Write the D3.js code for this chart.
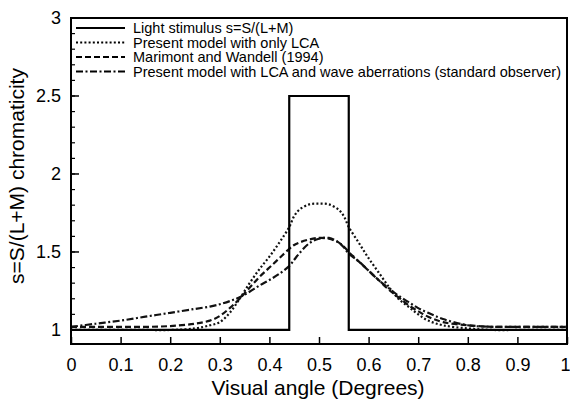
<!DOCTYPE html>
<html>
<head>
<meta charset="utf-8">
<script src="https://cdn.jsdelivr.net/npm/d3@7"></script>
<style>
  body { margin: 0; background: #fff; }
  text { font-family: "Liberation Sans", Arial, Helvetica, sans-serif; fill: #000; }
</style>
</head>
<body>
<div class="chart"></div>
<script>
// step profile of the stimulus
var stimX = [0, 0.44, 0.44, 0.56, 0.56, 1];
var stimY = [1, 1, 2.5, 2.5, 1, 1];

// sample positions for the model curves
var angles = [0, 0.05, 0.1, 0.15, 0.2, 0.25, 0.28, 0.3, 0.32, 0.34, 0.36, 0.38, 0.4, 0.42, 0.44, 0.45, 0.46, 0.48, 0.5,
              0.52, 0.54, 0.55, 0.56, 0.58, 0.6, 0.62, 0.64, 0.66, 0.68, 0.7, 0.72, 0.75, 0.8, 0.85, 0.9, 0.95, 1];

var lcaOnly   = [1.00, 1.00, 1.00, 1.00, 1.00, 1.01, 1.03, 1.05, 1.11, 1.20, 1.30, 1.39, 1.47, 1.56, 1.66, 1.73, 1.77, 1.805, 1.81,
                 1.805, 1.77, 1.73, 1.66, 1.56, 1.46, 1.37, 1.28, 1.20, 1.15, 1.10, 1.06, 1.03, 1.01, 1.00, 1.00, 1.00, 1.00];
var marimont  = [1.02, 1.02, 1.02, 1.02, 1.025, 1.04, 1.06, 1.09, 1.14, 1.20, 1.27, 1.34, 1.40, 1.46, 1.52, 1.545, 1.56, 1.58, 1.59,
                 1.585, 1.56, 1.535, 1.50, 1.44, 1.38, 1.32, 1.26, 1.21, 1.16, 1.12, 1.085, 1.05, 1.03, 1.02, 1.02, 1.02, 1.02];
var waveAberr = [1.02, 1.04, 1.06, 1.085, 1.11, 1.135, 1.15, 1.165, 1.185, 1.21, 1.245, 1.285, 1.32, 1.36, 1.41, 1.45, 1.49, 1.555, 1.585,
                 1.59, 1.56, 1.53, 1.49, 1.44, 1.38, 1.32, 1.27, 1.22, 1.18, 1.14, 1.11, 1.07, 1.03, 1.02, 1.02, 1.02, 1.02];

var legendLabels = [
    "Light stimulus s=S/(L+M)",
    "Present model with only LCA",
    "Marimont and Wandell (1994)",
    "Present model with LCA and wave aberrations (standard observer)"
];
var dashes = [null, "2,2.2", "6,3", "7,2.5,2,2.5"];

var xTicks = d3.range(0, 1.001, 0.1);
var yMajor = [1, 1.5, 2, 2.5, 3];
var yMinor = d3.range(1, 3.001, 0.1);

var width = 570, height = 401;

var svg = d3.select(".chart").append("svg")
    .attr("width", width)
    .attr("height", height);

var x = d3.scaleLinear().domain([0, 1]).range([71, 567]);
var y = d3.scaleLinear().domain([0.91, 3]).range([344, 18]);

var g = svg.append("g");

// curves
var line = d3.line()
    .x(function(d) { return x(d[0]); })
    .y(function(d) { return y(d[1]); });

var smooth = d3.line()
    .curve(d3.curveCatmullRom.alpha(0.5))
    .x(function(d) { return x(d[0]); })
    .y(function(d) { return y(d[1]); });

var series = [lcaOnly, marimont, waveAberr];
series.forEach(function(s, i) {
    g.append("path")
        .datum(angles.map(function(a, j) { return [a, s[j]]; }))
        .attr("d", smooth)
        .style("fill", "none")
        .style("stroke", "#111")
        .style("stroke-width", 2.2)
        .style("stroke-dasharray", dashes[i + 1]);
});

g.append("path")
    .datum(stimX.map(function(a, j) { return [a, stimY[j]]; }))
    .attr("d", line)
    .style("fill", "none")
    .style("stroke", "#000")
    .style("stroke-width", 2.2);

// ticks (inside)
var xAxis = d3.axisBottom(x).tickValues(xTicks).tickSizeInner(-7).tickSizeOuter(0)
    .tickFormat(function(d) { return d === 0 || d === 1 ? d3.format("d")(d) : d3.format(".1f")(d); });
var xg = svg.append("g").attr("transform", "translate(0," + y.range()[0] + ")").call(xAxis);
xg.select(".domain").remove();
xg.selectAll(".tick line").style("stroke", "#000").style("stroke-width", 1.5);
xg.selectAll(".tick text").attr("y", 14).style("font-size", "18px").style("font-family", "Liberation Sans, Arial, sans-serif");
xg.selectAll(".tick text").filter(function(d) { return d === 1; }).attr("dx", -2);

var yg = svg.append("g").attr("transform", "translate(" + x.range()[0] + ",0)");
yg.selectAll("line.minor").data(yMinor).enter().append("line")
    .attr("x1", 0).attr("x2", 4)
    .attr("y1", function(d) { return y(d); }).attr("y2", function(d) { return y(d); })
    .style("stroke", "#000").style("stroke-width", 1.2);
yg.selectAll("line.major").data(yMajor).enter().append("line")
    .attr("x1", 0).attr("x2", 8)
    .attr("y1", function(d) { return y(d); }).attr("y2", function(d) { return y(d); })
    .style("stroke", "#000").style("stroke-width", 1.5);
yg.selectAll("text").data(yMajor).enter().append("text")
    .attr("x", -10)
    .attr("y", function(d) { return y(d); })
    .attr("dy", "0.35em")
    .attr("text-anchor", "end")
    .style("font-size", "18px")
    .text(function(d) { return d; });

// frame
svg.append("rect")
    .attr("x", x.range()[0]).attr("y", y.range()[1])
    .attr("width", x.range()[1] - x.range()[0])
    .attr("height", y.range()[0] - y.range()[1])
    .style("fill", "none")
    .style("stroke", "#000")
    .style("stroke-width", 2);

// legend
var legend = svg.append("g").attr("class", "legend");
legendLabels.forEach(function(lab, i) {
    var ly = 28 + i * 14.5;
    legend.append("line")
        .attr("x1", 76).attr("x2", 125)
        .attr("y1", ly).attr("y2", ly)
        .style("stroke", "#000")
        .style("stroke-width", 2)
        .style("stroke-dasharray", dashes[i]);
    legend.append("text")
        .attr("x", 133).attr("y", ly)
        .attr("dy", "0.35em")
        .style("font-size", "14.5px")
        .text(lab);
});

// axis titles
svg.append("text")
    .attr("x", 318).attr("y", 395)
    .attr("text-anchor", "middle")
    .style("font-size", "21px")
    .text("Visual angle (Degrees)");

svg.append("text")
    .attr("transform", "translate(24,176) rotate(-90)")
    .attr("text-anchor", "middle")
    .style("font-size", "21px")
    .text("s=S/(L+M) chromaticity");
</script>
</body>
</html>
